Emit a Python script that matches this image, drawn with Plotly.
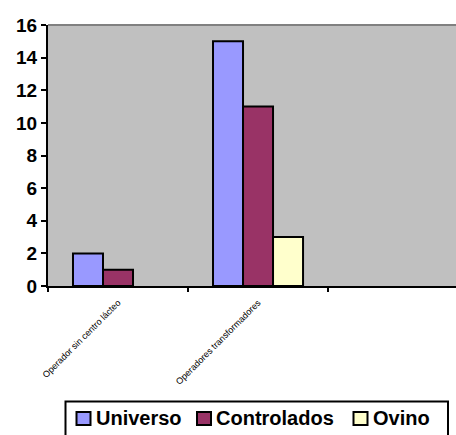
import plotly.graph_objects as go

categories = ["Operador sin centro lácteo", "Operadores transformadores"]
series_names = ["Universo", "Controlados", "Ovino"]
universo = [2, 15]
controlados = [1, 11]
ovino = [0, 3]
colors = ["#9999FF", "#993366", "#FFFFCC"]
y_ticks = [0, 2, 4, 6, 8, 10, 12, 14, 16]

FONT = "Arial, Liberation Sans, sans-serif"
W, H = 456, 435
L, R, T, B = 48, 0, 25, 149
PW = W - L - R
PH = H - T - B


def px2x(px):
    return (px - L) / PW


def px2y(py):
    return (H - B - py) / PH


fig = go.Figure()
for name, vals, col in zip(series_names, [universo, controlados, ovino], colors):
    fig.add_trace(go.Bar(
        x=categories, y=vals, name=name,
        marker=dict(color=col,
                    line=dict(color="black", width=[2 if v else 0 for v in vals])),
        showlegend=False,
    ))

# custom legend (layout decoration)
shapes = [
    dict(type="line", xref="paper", yref="paper", x0=0, x1=1, y0=1, y1=1,
         line=dict(color="#808080", width=2)),
    dict(type="rect", xref="paper", yref="paper",
         x0=px2x(65.5), x1=px2x(448), y0=px2y(401.5), y1=px2y(450),
         line=dict(color="black", width=2), fillcolor="white"),
]
annotations = []
sq_left = [76.5, 197, 353.5]
for name, col, sx in zip(series_names, colors, sq_left):
    shapes.append(dict(type="rect", xref="paper", yref="paper",
                       x0=px2x(sx), x1=px2x(sx + 14), y0=px2y(412), y1=px2y(425),
                       line=dict(color="black", width=2), fillcolor=col))
    annotations.append(dict(xref="paper", yref="paper", x=px2x(sx + 17), y=px2y(418),
                            xanchor="left", yanchor="middle", showarrow=False,
                            text=f"<b>{name}</b>",
                            font=dict(family=FONT, size=20, color="black")))

fig.update_layout(
    width=W, height=H,
    margin=dict(l=L, r=R, t=T, b=B),
    paper_bgcolor="white",
    plot_bgcolor="#C0C0C0",
    barmode="group",
    bargap=0.357,
    bargroupgap=0,
    showlegend=False,
    xaxis=dict(
        type="category",
        range=[-0.5, 2.414],
        tickson="boundaries",
        ticks="outside", ticklen=4, tickwidth=2, tickcolor="black",
        tickangle=-45,
        ticklabelstandoff=6,
        tickfont=dict(family=FONT, size=9, color="black"),
        showline=True, linecolor="black", linewidth=2,
        showgrid=False, zeroline=False,
        automargin=False,
    ),
    yaxis=dict(
        range=[0, 16],
        tickvals=y_ticks,
        ticks="outside", ticklen=5, tickwidth=2, tickcolor="black",
        tickfont=dict(family=FONT, size=19, color="black", weight="bold"),
        showline=True, linecolor="black", linewidth=2,
        showgrid=False, zeroline=False,
        automargin=False,
    ),
    shapes=shapes,
    annotations=annotations,
)

fig.write_html(
    "out.html",
    config={"displayModeBar": False},
    post_script="document.body.style.margin='0';document.body.style.overflow='hidden';",
)
